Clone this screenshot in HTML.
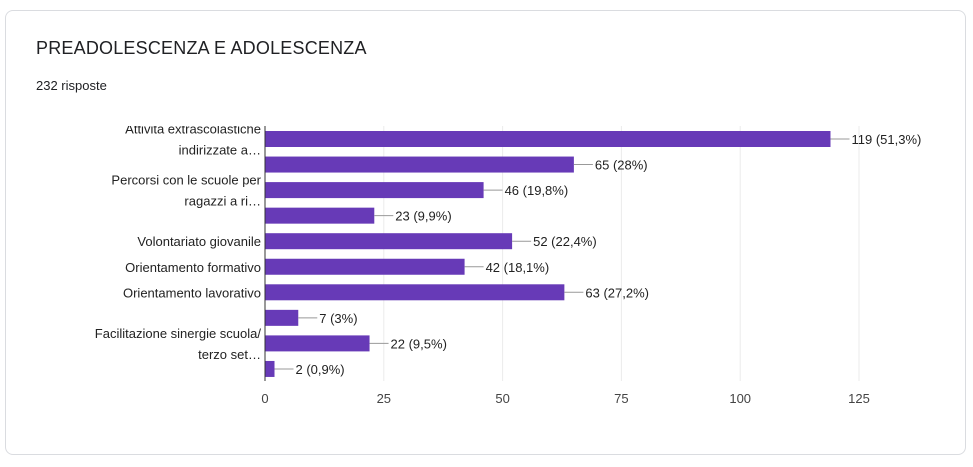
<!DOCTYPE html>
<html><head><meta charset="utf-8"><style>
body{margin:0;background:#fff;width:973px;height:467px;overflow:hidden;font-family:"Liberation Sans",Arial,sans-serif}
.card{position:absolute;left:5px;top:10px;width:961px;height:445px;border:1px solid #dadce0;border-radius:8px;box-sizing:border-box}
.title{position:absolute;left:36px;top:38px;font-size:18px;color:#202124;letter-spacing:0.2px}
.sub{position:absolute;left:36px;top:78px;font-size:13px;color:#202124}
svg{position:absolute;left:0;top:0}
</style></head><body>
<div class="card"></div>
<div class="title">PREADOLESCENZA E ADOLESCENZA</div>
<div class="sub">232 risposte</div>
<svg id="chart" width="973" height="467">
<defs><clipPath id="clip"><rect x="0" y="126" width="973" height="300"/></clipPath></defs>
</svg>
<script>
const categories=[["Attività extrascolastiche","indirizzate a…"],[""],["Percorsi con le scuole per","ragazzi a ri…"],[""],["Volontariato giovanile"],["Orientamento formativo"],["Orientamento lavorativo"],[""],["Facilitazione sinergie scuola/","terzo set…"],[""]];
const values=[119,65,46,23,52,42,63,7,22,2];
const valueLabels=["119 (51,3%)","65 (28%)","46 (19,8%)","23 (9,9%)","52 (22,4%)","42 (18,1%)","63 (27,2%)","7 (3%)","22 (9,5%)","2 (0,9%)"];
const ticks=[0,25,50,75,100,125];
const svg=document.getElementById('chart');
const NS='http://www.w3.org/2000/svg';
const x0=265,x1=859,yTop=126,yBot=381,step=25.55,barH=16;
const xs=v=>x0+(v/125)*(x1-x0);
const yc=i=>139+i*step;
function mk(t,a,p){const e=document.createElementNS(NS,t);for(const k in a)e.setAttribute(k,a[k]);(p||svg).appendChild(e);return e;}
ticks.forEach(t=>{
 const g=mk('line',{x1:xs(t),x2:xs(t),y1:yTop,y2:yBot,stroke:t===0?'#333':'#ebebeb','stroke-width':1});
 
 
 const l=mk('text',{x:xs(t),y:403,'text-anchor':'middle','font-size':13,fill:'#444'});
 l.textContent=t;
 
 
});
const cg=mk('g',{'clip-path':'url(#clip)'});
values.forEach((v,i)=>{
 const r=mk('rect',{x:x0,y:yc(i)-barH/2,width:xs(v)-x0,height:barH,fill:'#673ab7'});
 
 
 const ln=mk('line',{x1:xs(v),x2:xs(v)+19,y1:yc(i),y2:yc(i),stroke:'#999','stroke-width':1});
 
 
 const t=mk('text',{x:xs(v)+21,y:yc(i)+5,'font-size':13,fill:'#222'});
 t.textContent=valueLabels[i];
 
 
 const c=categories[i];
 if(c[0]){
  const lines=c.length;
  c.forEach((s,j)=>{
   const tt=mk('text',{x:261,y:yc(i)+5+(j-(lines-1)/2)*21,'text-anchor':'end','font-size':13,fill:'#222'},cg);
   tt.textContent=s;
   
   
  });
 }
});
mk('line',{x1:x0,x2:x0,y1:yTop,y2:yBot,stroke:'#333','stroke-width':1});
</script>
</body></html>
